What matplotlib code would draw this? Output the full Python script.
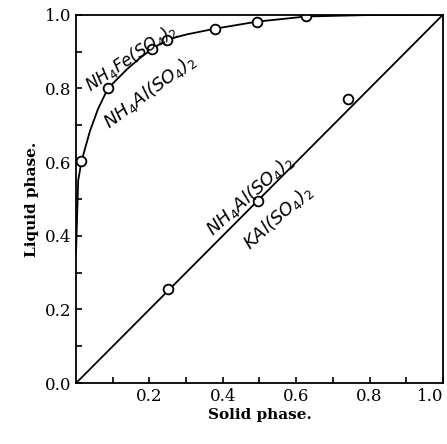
import numpy as np
import matplotlib
matplotlib.use("Agg")
import matplotlib.pyplot as plt

# Upper curve: NH4Fe(SO4)2 / NH4Al(SO4)2 (measured points)
fe_solid = [0.015, 0.087, 0.207, 0.248, 0.379, 0.493, 0.627]
fe_liquid = [0.602, 0.80, 0.907, 0.932, 0.962, 0.981, 0.995]

# drawn curve
curve_solid = [0.0, 0.006, 0.015, 0.038, 0.060, 0.087, 0.139, 0.174, 0.207,
               0.248, 0.30, 0.379, 0.493, 0.627, 0.80, 1.0]
curve_liquid = [0.35, 0.55, 0.602, 0.684, 0.744, 0.80, 0.852, 0.882, 0.907,
                0.932, 0.946, 0.962, 0.981, 0.995, 0.999, 1.0]

# Diagonal: NH4Al(SO4)2 / KAl(SO4)2
k_solid = [0.251, 0.496, 0.741]
k_liquid = [0.256, 0.493, 0.771]

plt.rcParams['font.family'] = 'DejaVu Serif'
plt.rcParams['mathtext.default'] = 'it'

fig = plt.figure(figsize=(4.47, 4.44), dpi=100)
ax = fig.add_axes([0.170, 0.137, 0.821, 0.830])

ax.plot(curve_solid, curve_liquid, color='black', lw=1.3)
ax.plot(fe_solid, fe_liquid, 'o', mfc='white', mec='black', mew=1.3, ms=7)

# ideal line
ax.plot([0, 1], [0, 1], color='black', lw=1.3)
ax.plot(k_solid, k_liquid, 'o', mfc='white', mec='black', mew=1.3, ms=7)

ax.set_xlim(0, 1.0)
ax.set_ylim(0, 1.0)
ax.set_xticks(np.arange(0.2, 1.01, 0.2))
ax.set_xticklabels(['0.2', '0.4', '0.6', '0.8', '1.0'])
ax.set_yticks(np.arange(0, 1.01, 0.2))
ax.set_yticklabels(['0.0', '0.2', '0.4', '0.6', '0.8', '1.0'])
ax.set_xticks(np.arange(0.1, 1.0, 0.2), minor=True)
ax.set_yticks(np.arange(0.1, 1.0, 0.2), minor=True)
ax.tick_params(which='both', direction='in', length=4, width=1.2, labelsize=12)
ax.get_xticklabels()[-1].set_ha('right')
for s in ax.spines.values():
    s.set_linewidth(1.3)

ax.set_xlabel('Solid phase.', fontsize=11, fontweight='bold', labelpad=2)
ax.set_ylabel('Liquid phase.', fontsize=11, fontweight='bold', labelpad=4)

# hand lettered labels
lab = dict(fontstyle='italic', family='DejaVu Sans', ha='center', va='center')
ax.text(0.150, 0.884, r'NH$_4$Fe(SO$_4$)$_2$', rotation=34, fontsize=12, **lab)
ax.text(0.200, 0.792, r'NH$_4$Al(SO$_4$)$_2$', rotation=37, fontsize=13, **lab)
ax.text(0.475, 0.510, r'NH$_4$Al(SO$_4$)$_2$', rotation=42, fontsize=13, **lab)
ax.text(0.552, 0.449, r'KAl(SO$_4$)$_2$', rotation=42, fontsize=13, **lab)

fig.savefig('out.png', dpi=100)
